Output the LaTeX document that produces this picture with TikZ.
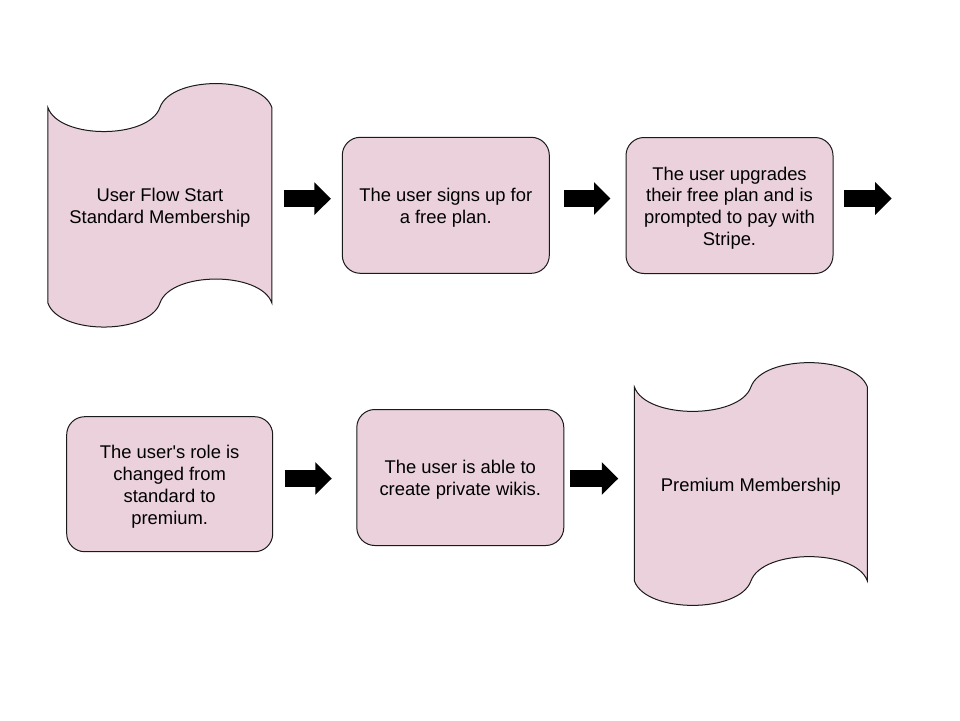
\documentclass[tikz,border=0pt]{standalone}
\usepackage{fontspec}
\setmainfont{Liberation Sans}
\usetikzlibrary{arrows.meta, calc, backgrounds}
\definecolor{step-pink}{HTML}{EAD1DC}
\definecolor{edge-dark}{HTML}{1A1A1A}

% wavy tape outline round a plain node; #2 sets the depth of the wave
\newcommand{\drawtape}[2]{%
  \begin{pgfonlayer}{background}
    \draw[tapeline] (#1.north west)
      .. controls ($(#1.north west)!0.05!(#1.north east)+(0,-#2)$)
      and ($(#1.north west)!0.45!(#1.north east)+(0,-#2)$) .. (#1.north)
      .. controls ($(#1.north west)!0.55!(#1.north east)+(0,#2)$)
      and ($(#1.north west)!0.95!(#1.north east)+(0,#2)$) .. (#1.north east)
      -- (#1.south east)
      .. controls ($(#1.south west)!0.95!(#1.south east)+(0,#2)$)
      and ($(#1.south west)!0.55!(#1.south east)+(0,#2)$) .. (#1.south)
      .. controls ($(#1.south west)!0.45!(#1.south east)+(0,-#2)$)
      and ($(#1.south west)!0.05!(#1.south east)+(0,-#2)$) .. (#1.south west)
      -- cycle;
  \end{pgfonlayer}}
% text lines sit a little low in their boxes
\newcommand{\steptext}[1]{%
  \raisebox{-3pt}[\height][\depth]{\begin{tabular}{@{}c@{}}#1\end{tabular}}}

\tikzset{
  stepbox/.style={draw=edge-dark, fill=step-pink, line width=1pt,
    rounded corners=18pt, minimum width=207pt, minimum height=136pt,
    inner sep=0pt},
  tapetext/.style={inner sep=0pt, outer sep=0pt},
  tapeline/.style={draw=edge-dark, fill=step-pink, line width=1pt},
  flowarrow/.style={line width=17.5pt, -{Triangle[length=16.5pt, width=31.6pt]}}
}

\begin{document}
\begin{tikzpicture}[x=1pt, y=-1pt,
    every node/.style={font=\fontsize{18.4}{21.7}\selectfont, text=black}]
  \useasboundingbox (0,0) rectangle (960,720);
  \begin{pgfonlayer}{background}
    \fill[white] (0,0) rectangle (960,720);
  \end{pgfonlayer}

  \node[tapetext, minimum width=224pt, minimum height=195.5pt] (start)
    at (159.9, 205.3) {\steptext{User Flow Start\\Standard Membership}};
  \node[stepbox] (signup) at (445.8, 205.3)
    {\steptext{The user signs up for\\a free plan.}};
  \node[stepbox] (upgrade) at (729.5, 205.5)
    {\steptext{The user upgrades\\their free plan and is\\prompted to pay with\\Stripe.}};
  \node[stepbox, minimum width=206pt, minimum height=135pt] (role)
    at (169.7, 484.2)
    {\steptext{The user\textquotesingle s role is\\changed from\\standard to\\premium.}};
  \node[stepbox] (wikis) at (460.3, 477.5)
    {\steptext{The user is able to\\create private wikis.}};
  \node[tapetext, minimum width=233pt, minimum height=194pt] (premium)
    at (750.9, 484) {\steptext{Premium Membership}};
  \drawtape{start}{32pt}
  \drawtape{premium}{32.5pt}

  \coordinate (rowend) at (891.7, 198.5);
  \draw[flowarrow] ([shift={(11.6,-6.6)}]start.east) -- ([shift={(-10.9,-6.6)}]signup.west);
  \draw[flowarrow] ([shift={(14.2,-6.8)}]signup.east) -- ([shift={(-15,-7)}]upgrade.west);
  \draw[flowarrow] ([shift={(10.3,-7)}]upgrade.east) -- (rowend);
  \draw[flowarrow] ([shift={(11.3,-5.7)}]role.east) -- ([shift={(-24.5,1)}]wikis.west);
  \draw[flowarrow] ([shift={(5.2,1)}]wikis.east) -- ([shift={(-16.1,-5.5)}]premium.west);
\end{tikzpicture}
\end{document}
